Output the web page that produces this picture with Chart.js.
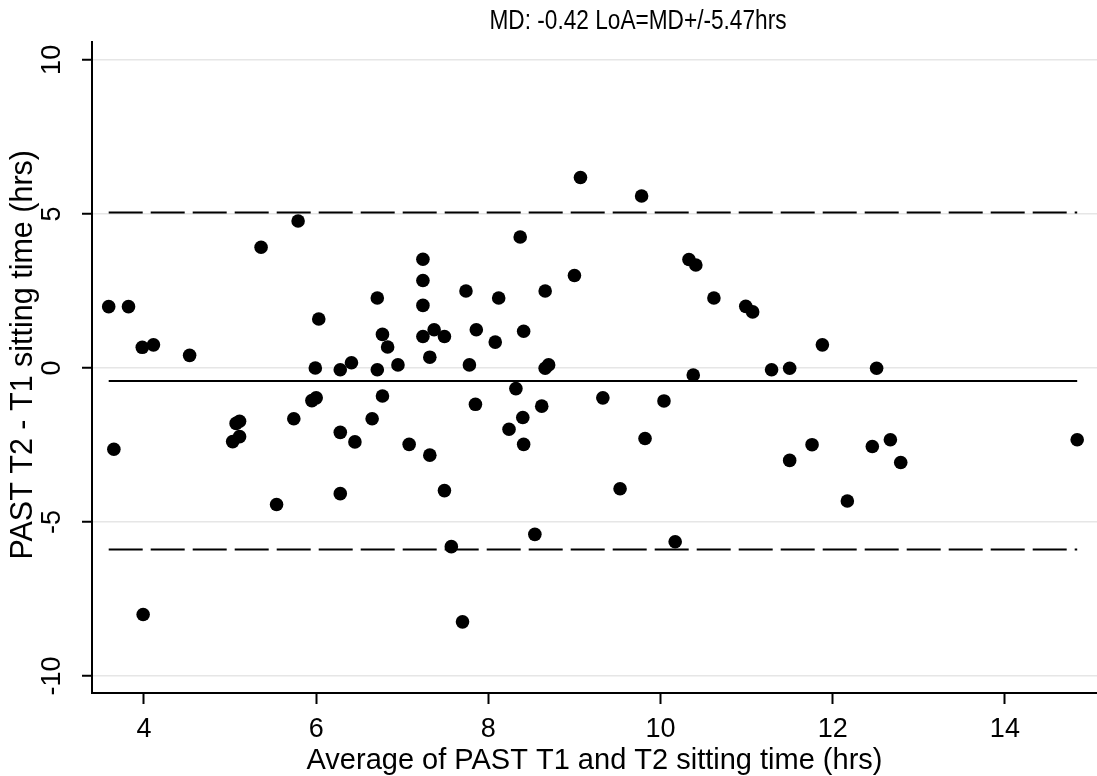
<!DOCTYPE html>
<html>
<head>
<meta charset="utf-8">
<script src="https://cdn.jsdelivr.net/npm/chart.js@4.4.0/dist/chart.umd.min.js"></script>
<style>
    html, body { margin: 0; padding: 0; background: #fff; overflow: hidden; }
    canvas { display: block; }
</style>
</head>
<body>
<canvas id="graficoBA" width="1097" height="776"></canvas>
<script>
const tituloGrafico = 'MD: -0.42 LoA=MD+/-5.47hrs';
const rotuloX = 'Average of PAST T1 and T2 sitting time (hrs)';
// espacos no inicio empurram o rotulo um pouco para cima, como no original
const rotuloY = '   PAST T2 - T1 sitting time (hrs)';

// media de T1 e T2 (eixo x)
const mediaT1T2 = [
    3.59, 3.65, 3.82, 3.98, 3.99, 4.11, 4.53, 5.03, 5.07, 5.11,
    5.11, 5.36, 5.54, 5.74, 5.79, 5.95, 5.99, 6.00, 6.03, 6.28,
    6.28, 6.28, 6.41, 6.45, 6.65, 6.71, 6.71, 6.77, 6.77, 6.83,
    6.95, 7.08, 7.24, 7.24, 7.24, 7.24, 7.32, 7.32, 7.37, 7.49,
    7.49, 7.57, 7.70, 7.74, 7.78, 7.85, 7.86, 8.08, 8.12, 8.24,
    8.32, 8.37, 8.40, 8.41, 8.41, 8.54, 8.62, 8.66, 8.66, 8.70,
    9.00, 9.07, 9.33, 9.53, 9.78, 9.82, 10.04, 10.17, 10.33, 10.38,
    10.41, 10.62, 10.99, 11.07, 11.29, 11.50, 11.50, 11.76, 11.88, 12.17,
    12.46, 12.51, 12.67, 12.79, 14.84
];

// diferenca T2 - T1 (eixo y)
const diferencaT2T1 = [
    1.99, -2.64, 1.99, 0.67, -8.00, 0.75, 0.41, -2.39, -1.80, -1.73,
    -2.23, 3.92, -4.43, -1.65, 4.77, -1.06, 0.00, -0.97, 1.59, -0.06,
    -2.09, -4.08, 0.17, -2.40, -1.65, 2.27, -0.06, 1.09, -0.91, 0.68,
    0.10, -2.48, 3.53, 2.84, 2.03, 1.02, 0.35, -2.83, 1.24, 1.02,
    -3.98, -5.80, -8.24, 2.50, 0.10, -1.18, 1.24, 0.84, 2.27, -1.99,
    -0.67, 4.25, -1.61, 1.19, -2.48, -5.40, -1.24, 2.50, -0.01, 0.10,
    3.00, 6.18, -0.97, -3.92, 5.58, -2.29, -1.07, -5.64, 3.52, -0.23,
    3.34, 2.27, 2.00, 1.82, -0.06, -0.01, -3.00, -2.49, 0.75, -4.32,
    -2.55, -0.01, -2.33, -3.07, -2.33
];

const ticksX = [4, 6, 8, 10, 12, 14];
const ticksY = [-10, -5, 0, 5, 10];

const diferencaMedia = -0.42;
const limiteConcordancia = 5.47;

const fonte = "'Liberation Sans', Arial, sans-serif";

const pontos = mediaT1T2.map((x, i) => ({ x: x, y: diferencaT2T1[i] }));
const xInicio = Math.min(...mediaT1T2);
const xFim = Math.max(...mediaT1T2);
const limSuperior = diferencaMedia + limiteConcordancia;
const limInferior = diferencaMedia - limiteConcordancia;

function linhaHorizontal(valorY) {
    return [{ x: xInicio, y: valorY }, { x: xFim, y: valorY }];
}

// titulo desenhado a parte (no original fica deslocado para a direita e mais estreito)
const pluginTitulo = {
    id: 'tituloBA',
    afterDraw(chart) {
        const ctx = chart.ctx;
        ctx.save();
        ctx.fillStyle = '#000';
        ctx.font = '27px ' + fonte;
        ctx.textAlign = 'center';
        ctx.textBaseline = 'middle';
        const largura = ctx.measureText(tituloGrafico).width;
        const escala = 297 / largura;
        ctx.translate(638, 22);
        ctx.scale(escala, 1);
        ctx.fillText(tituloGrafico, 0, 0);
        ctx.restore();
    }
};

const ctxBA = document.getElementById('graficoBA').getContext('2d');
new Chart(ctxBA, {
    type: 'scatter',
    data: {
        datasets: [
            {
                data: pontos,
                backgroundColor: '#000',
                borderColor: '#000',
                borderWidth: 0,
                pointRadius: 6.8,
                pointHoverRadius: 6.8
            },
            {
                data: linhaHorizontal(diferencaMedia),
                showLine: true,
                borderColor: '#000',
                borderWidth: 2,
                pointRadius: 0
            },
            {
                data: linhaHorizontal(limSuperior),
                showLine: true,
                borderColor: '#000',
                borderWidth: 2,
                borderDash: [34, 8],
                pointRadius: 0
            },
            {
                data: linhaHorizontal(limInferior),
                showLine: true,
                borderColor: '#000',
                borderWidth: 2,
                borderDash: [34, 8],
                pointRadius: 0
            }
        ]
    },
    options: {
        responsive: false,
        animation: false,
        events: [],
        layout: {
            autoPadding: false,
            padding: { top: 42, left: 0, right: 0, bottom: 0 }
        },
        plugins: {
            legend: { display: false },
            tooltip: { enabled: false }
        },
        scales: {
            x: {
                type: 'linear',
                position: 'bottom',
                min: 3.396,
                max: 15.07,
                afterBuildTicks: s => { s.ticks = ticksX.map(v => ({ value: v })); },
                afterFit: s => { s.height = 83; },
                ticks: {
                    color: '#000',
                    font: { family: fonte, size: 27 },
                    padding: 9,
                    maxRotation: 0,
                    autoSkip: false,
                    callback: v => String(v)
                },
                grid: {
                    drawOnChartArea: false,
                    tickLength: 11,
                    tickColor: '#000',
                    tickWidth: 2
                },
                border: { color: '#000', width: 2 },
                title: {
                    display: true,
                    text: rotuloX,
                    color: '#000',
                    font: { family: fonte, size: 29, lineHeight: 1 },
                    padding: { top: 0, bottom: 1 }
                }
            },
            y: {
                type: 'linear',
                min: -10.55,
                max: 10.58,
                afterBuildTicks: s => { s.ticks = ticksY.map(v => ({ value: v })); },
                afterFit: s => { s.width = 92; },
                ticks: {
                    color: '#000',
                    font: { family: fonte, size: 27 },
                    minRotation: 90,
                    maxRotation: 90,
                    crossAlign: 'center',
                    padding: 10,
                    autoSkip: false,
                    callback: v => String(v)
                },
                grid: {
                    color: '#e6e6e6',
                    lineWidth: 1.5,
                    tickLength: 10,
                    tickColor: '#000',
                    tickWidth: 2
                },
                border: { color: '#000', width: 2 },
                title: {
                    display: true,
                    text: rotuloY,
                    color: '#000',
                    font: { family: fonte, size: 30.5, lineHeight: 1 },
                    padding: { top: 8, bottom: 0 }
                }
            }
        }
    },
    plugins: [pluginTitulo]
});
</script>
</body>
</html>
